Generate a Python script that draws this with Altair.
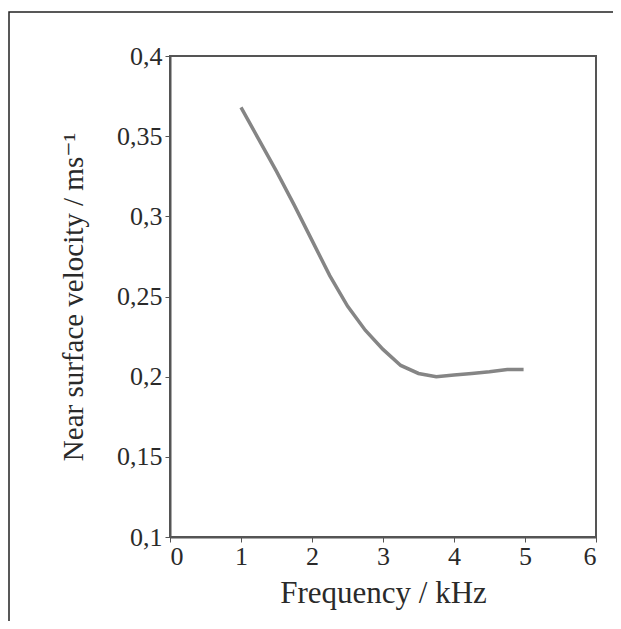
import altair as alt
import pandas as pd

freq = [1.0, 1.25, 1.5, 1.75, 2.0, 2.25, 2.5, 2.75, 3.0, 3.25, 3.5, 3.75, 4.0, 4.25, 4.5, 4.75, 4.98]
vel = [0.368, 0.348, 0.328, 0.307, 0.285, 0.263, 0.244, 0.229, 0.217, 0.207, 0.202, 0.2, 0.201, 0.202, 0.203, 0.2045, 0.2045]
x_ticks = [0, 1, 2, 3, 4, 5, 6]
y_ticks = [0.1, 0.15, 0.2, 0.25, 0.3, 0.35, 0.4]

df = pd.DataFrame({"f": freq, "v": vel})
FONT = "'Liberation Serif', 'Times New Roman', 'DejaVu Serif', serif"

line = alt.Chart(df).mark_line(color="#858585", strokeWidth=3.5).encode(
    x=alt.X("f:Q", scale=alt.Scale(domain=[0, 6], nice=False, zero=False),
            axis=alt.Axis(values=x_ticks, title="Frequency / kHz", grid=False,
                          labelFont=FONT, titleFont=FONT, labelFontSize=26, titleFontSize=31,
                          titleFontWeight="normal", labelColor="#2a2a2a", titleColor="#2a2a2a",
                          domainColor="#555", domainWidth=2, tickColor="#555", tickSize=5,
                          labelPadding=1, titlePadding=9)),
    y=alt.Y("v:Q", scale=alt.Scale(domain=[0.1, 0.4], nice=False, zero=False),
            axis=alt.Axis(values=y_ticks, title="Near surface velocity / ms⁻¹", grid=False,
                          labelExpr="replace(toString(datum.value), '.', ',')",
                          labelFont=FONT, titleFont=FONT, labelFontSize=26, titleFontSize=29,
                          titleFontWeight="normal", labelColor="#2a2a2a", titleColor="#2a2a2a",
                          domainColor="#555", domainWidth=2, tickColor="#555", tickSize=5,
                          labelPadding=3, titlePadding=28)),
)

frame = alt.Chart(pd.DataFrame({"k": [0]})).mark_rect(
    fill=None, fillOpacity=0, stroke="#222", strokeWidth=1.5).encode(
    x=alt.value(-161), x2=alt.value(470), y=alt.value(-44), y2=alt.value(600))

chart = alt.layer(line, frame).properties(
    width=426, height=481,
    autosize=alt.AutoSizeParams(type="none"),
    padding={"left": 162, "top": 48, "right": 17, "bottom": 84},
).configure_view(stroke="#555", strokeWidth=2)

chart.save("out.html", embed_options={"renderer": "svg", "actions": False})
